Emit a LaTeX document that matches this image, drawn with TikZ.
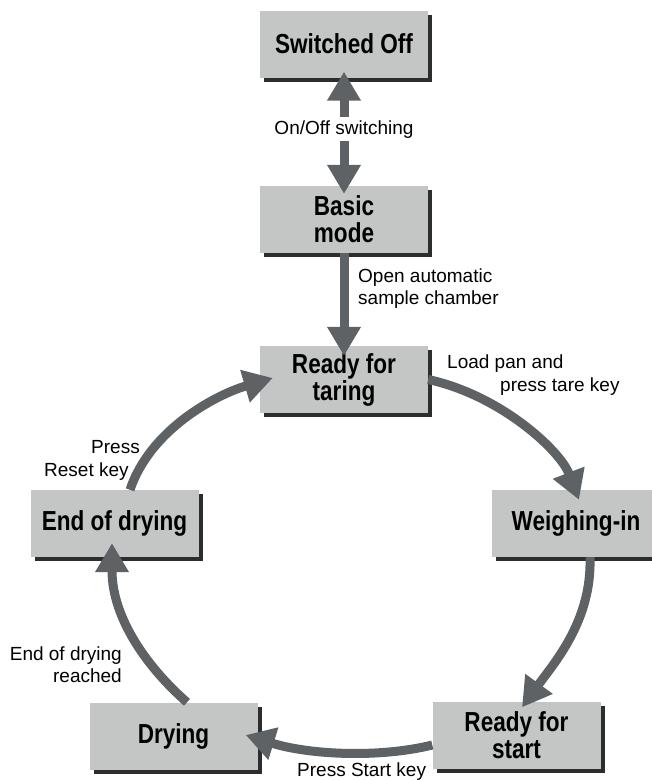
\documentclass[tikz,border=0pt]{standalone}
\usepackage{fontspec}
\setmainfont{Liberation Sans}
\newfontfamily\boxfont{Liberation Sans}[FakeStretch=0.82]
\usetikzlibrary{arrows.meta}
\definecolor{boxfill}{HTML}{C4C6C5}
\definecolor{boxshadow}{HTML}{2B2D2F}
\definecolor{arrowc}{HTML}{5E6264}
\tikzset{
  stbox/.style={fill=boxfill, minimum width=168pt, minimum height=67pt, inner sep=0pt,
    align=center, font=\boxfont\bfseries\fontsize{27.5}{27}\selectfont},
  flow/.style={draw=arrowc, line width=9pt, -{Triangle[length=29pt,width=32pt]}},
  lbl/.style={font=\fontsize{19}{23}\selectfont, inner sep=0pt},
}
\begin{document}
\begin{tikzpicture}[x=1pt,y=-1pt]
\useasboundingbox (0,0) rectangle (652,780);
% shadows, drawn first: box centre + 3.5 right/down, half size 84 x 33.5
\foreach \cx/\cy in {344/44, 344/219.5, 344/379.5, 576/523.5, 114.5/523.5, 173.5/736, 516.5/735}{
  \fill[boxshadow] (\cx-84+4,\cy-33.5+4) rectangle (\cx+84+4,\cy+33.5+4);
}
% states
\node[stbox] (off)    at (344,44)    {Switched Off};
\node[stbox] (basic)  at (344,219.5) {Basic\\mode};
\node[stbox] (taring) at (344,379.5) {Ready for\\taring};
\node[stbox] (weigh)  at (576,523.5) {Weighing-in};
\node[stbox] (enddry) at (114.5,523.5) {End of drying};
\node[stbox] (drying) at (173.5,736) {Drying};
\node[stbox] (start)  at (516.5,735) {Ready for\\start};
% connectors
\draw[flow, {Triangle[length=29pt,width=32pt]}-{Triangle[length=29pt,width=32pt]}]
  ([shift={(0,-6)}]off.south) -- ([shift={(0,8)}]basic.north)
  node[lbl, fill=white, inner sep=3pt, pos=0.47] (onoff) {On/Off switching};
\draw[flow] (basic.south) -- ([shift={(0,10)}]taring.north);
\draw[flow] (taring.east) .. controls (500,395) and (560,450) .. ([shift={(3,10)}]weigh.north);
\draw[flow] ([shift={(14,0)}]weigh.south) .. controls (592,620) and (555,662) .. ([shift={(5.5,6)}]start.north);
\draw[flow] ([shift={(0,10)}]start.west) .. controls (380,758) and (310,755) .. ([shift={(-12,-1)}]drying.east);
\draw[flow] ([shift={(13.5,0)}]drying.north) .. controls (150,670) and (112,620) .. ([shift={(-2.5,-14)}]enddry.south);
\draw[flow] ([shift={(15.5,0)}]enddry.north) .. controls (150,430) and (215,395) .. ([shift={(13,-1.5)}]taring.west);
% labels
\node[lbl, anchor=base west] (l2a) at (358,282) {Open automatic};
\node[lbl, anchor=base west] (l2b) at (358,304) {sample chamber};
\node[lbl, anchor=base west] (l3a) at (447,368) {Load pan and};
\node[lbl, anchor=base west] (l3b) at (500,391) {press tare key};
\node[lbl, anchor=base west] (l5a) at (91,453) {Press};
\node[lbl, anchor=base west] (l5b) at (44,476) {Reset key};
\node[lbl, anchor=base east] (l4a) at (122,660) {End of drying};
\node[lbl, anchor=base east] (l4b) at (122,682) {reached};
\node[lbl, anchor=base west] (l6) at (297,776) {Press Start key};
\end{tikzpicture}
\end{document}
